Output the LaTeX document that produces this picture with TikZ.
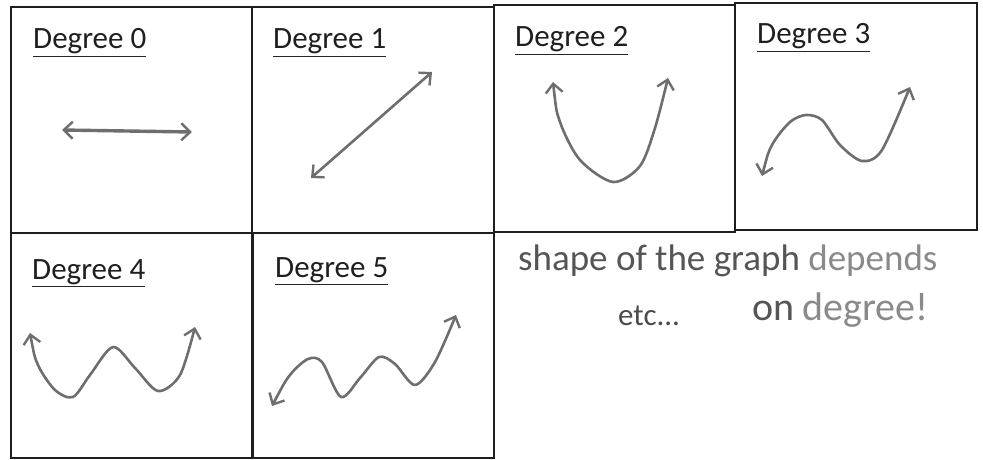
\documentclass[tikz,border=0pt]{standalone}
\usepackage{fontspec}
\setmainfont{Carlito}
\usetikzlibrary{arrows.meta}
\definecolor{ink}{HTML}{6E6E6E}
\definecolor{frame}{HTML}{1E1E1E}
\definecolor{hand}{HTML}{555555}
\definecolor{handlight}{HTML}{8A8A8A}
\begin{document}
\begin{tikzpicture}[x=1pt,y=-1pt,
  box/.style={draw=frame,line width=1.9pt},
  tip/.tip={Straight Barb[length=9pt,width=17pt,line width=2.4pt]},
  curve/.style={draw=ink,line width=2.6pt,line cap=round,line join=round,tip-tip},
  title/.style={anchor=base west,font=\fontsize{31}{36}\selectfont,text=black!88,inner sep=0pt},
  uline/.style={draw=black!85,line width=1.8pt},
  handtext/.style={anchor=base west,inner sep=0pt,font=\fontsize{37}{40}\selectfont}]
\useasboundingbox (0,0) rectangle (983,460);
\fill[white] (0,0) rectangle (983,460);
% boxes
\draw[box] (11,7) rectangle (252,233);
\draw[box] (252,7) rectangle (494,233);
\draw[box] (494,5) rectangle (735,232);
\draw[box] (735,3) rectangle (977,230);
\draw[box] (11,233) rectangle (252,458);
\draw[box] (253,233) rectangle (494,458);
\draw[box] (494,232) -- (494,455);
% titles
\node[title] (t0) at (33,49) {Degree 0};
\node[title] (t1) at (273,49) {Degree 1};
\node[title] (t2) at (515,47) {Degree 2};
\node[title] (t3) at (757,44) {Degree 3};
\node[title] (t4) at (32,279) {Degree 4};
\node[title] (t5) at (275,277) {Degree 5};
\foreach \t in {t0,t1,t2,t3,t4,t5}{
  \draw[uline] ([yshift=-2pt]\t.south west) -- ([yshift=-2pt]\t.south east);
}
% curves
\coordinate (a0) at (62,130);
\coordinate (b0) at (192,132);
\draw[curve,line width=3.4pt] (a0) -- (b0);
\coordinate (a1) at (311,178);
\coordinate (b1) at (432,72);
\draw[curve] (a1) -- (b1);
\draw[curve] plot[smooth] coordinates {(553,82) (560,122) (580,160) (613,182) (640,166) (655,128) (668,78)};
\draw[curve] plot[smooth] coordinates {(762,176) (772,145) (790,122) (806,115) (822,120) (840,145) (862,161) (882,150) (910,87)};
\draw[curve] plot[smooth] coordinates {(30,333) (38,365) (55,390) (73,397) (90,375) (113,347) (135,368) (158,391) (180,375) (195,327)};
\draw[curve] plot[smooth] coordinates {(272,406) (290,375) (308,359) (322,362) (341,397) (360,378) (379,357) (395,364) (415,385) (435,362) (456,315)};
% text
\node[handtext,text=hand] (s1) at (518,270) {shape of the graph};
\node[handtext,text=handlight,anchor=base west] (s2) at ([xshift=8pt]s1.base east) {depends};
\node[handtext,text=hand,font=\fontsize{40}{44}\selectfont] (s3) at (752,320) {on};
\node[handtext,text=handlight,anchor=base west,font=\fontsize{40}{44}\selectfont] (s4) at ([xshift=8pt]s3.base east) {degree!};
\node[anchor=base west,inner sep=0pt,font=\fontsize{31}{36}\selectfont,text=black!70] (etc) at (618,325) {etc...};
\end{tikzpicture}
\end{document}
